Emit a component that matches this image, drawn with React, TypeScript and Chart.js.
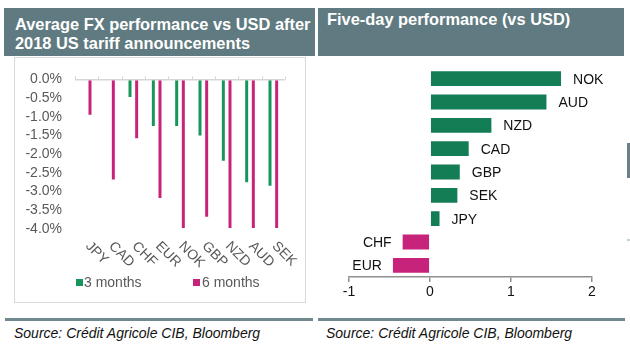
import React, { useEffect, useRef } from "react";
import { Chart, registerables } from "chart.js";

Chart.register(...registerables);

const FONT = "'Liberation Sans', Arial, Helvetica, sans-serif";

// Left chart data
const tariffCurrencies = ["JPY", "CAD", "CHF", "EUR", "NOK", "GBP", "NZD", "AUD", "SEK"];
const threeMonths = [null, null, -0.5, -1.27, -1.27, -1.53, -2.2, -2.78, -2.87];
const sixMonths = [-0.97, -2.7, -1.6, -3.2, -4.0, -3.7, -4.0, -4.0, -4.0];
const seriesNames = ["3 months", "6 months"];

// Right chart data
const fiveDayCurrencies = ["NOK", "AUD", "NZD", "CAD", "GBP", "SEK", "JPY", "CHF", "EUR"];
const fiveDayValues = [1.63, 1.45, 0.77, 0.49, 0.38, 0.35, 0.13, -0.35, -0.47];

const GREEN_L = "#17955c";
const PINK = "#c8237a";
const GREEN_R = "#137d55";
const HEADER = "#5f7a80";
const DIVIDER = "#6f898f";

const leftLabelsPlugin = {
  id: "leftLabels",
  afterDraw(chart: any) {
    const { ctx, chartArea } = chart;
    const x = chart.scales.x;
    const y = chart.scales.y;
    const labels: string[] = chart.data.labels;
    const n = labels.length;
    const y0 = y.getPixelForValue(0);
    ctx.save();
    ctx.strokeStyle = "#d4d4d4";
    ctx.lineWidth = 1;
    for (let i = 0; i <= n; i++) {
      const px = Math.round(chartArea.left + ((chartArea.right - chartArea.left) * i) / n) + 0.5;
      ctx.beginPath();
      ctx.moveTo(px, y0 - 3);
      ctx.lineTo(px, y0);
      ctx.stroke();
    }
    ctx.font = `14px ${FONT}`;
    ctx.fillStyle = "#595959";
    ctx.textAlign = "left";
    ctx.textBaseline = "middle";
    labels.forEach((lab, i) => {
      const px = x.getPixelForValue(i);
      ctx.save();
      ctx.translate(px + 1, chartArea.bottom + 15);
      ctx.rotate(Math.PI / 4);
      ctx.fillText(lab, 0, 0);
      ctx.restore();
    });
    ctx.restore();
  },
};

const rightLabelsPlugin = {
  id: "rightLabels",
  afterDatasetsDraw(chart: any) {
    const { ctx } = chart;
    const meta = chart.getDatasetMeta(0);
    const vals: number[] = chart.data.datasets[0].data;
    const labels: string[] = chart.data.labels;
    ctx.save();
    ctx.font = `14px ${FONT}`;
    ctx.fillStyle = "#111111";
    ctx.textBaseline = "middle";
    meta.data.forEach((el: any, i: number) => {
      const v = vals[i];
      if (v >= 0) {
        ctx.textAlign = "left";
        ctx.fillText(labels[i], el.x + 11, el.y + 1);
      } else {
        ctx.textAlign = "right";
        ctx.fillText(labels[i], el.x - 10, el.y + 1);
      }
    });
    ctx.restore();
  },
};

function LeftChart() {
  const ref = useRef<HTMLCanvasElement>(null);
  useEffect(() => {
    const chart = new Chart(ref.current!, {
      type: "bar",
      data: {
        labels: tariffCurrencies,
        datasets: [
          {
            label: seriesNames[0],
            data: threeMonths as any,
            backgroundColor: GREEN_L,
            borderColor: "rgba(255,255,255,0.45)",
            borderWidth: 1,
            categoryPercentage: 0.57,
            barPercentage: 0.75,
          },
          {
            label: seriesNames[1],
            data: sixMonths,
            backgroundColor: PINK,
            borderColor: "rgba(255,255,255,0.45)",
            borderWidth: 1,
            categoryPercentage: 0.57,
            barPercentage: 0.75,
          },
        ],
      },
      options: {
        responsive: false,
        animation: false,
        layout: { padding: { top: 17, right: 20, bottom: 73, left: 0 } },
        plugins: { legend: { display: false }, tooltip: { enabled: false } },
        scales: {
          x: { display: false },
          y: {
            min: -4,
            max: 0,
            afterFit: (s: any) => {
              s.width = 60;
            },
            border: { display: false },
            grid: {
              drawTicks: false,
              lineWidth: 1.5,
              color: (c: any) => (c.tick && c.tick.value === 0 ? "#d6d6d6" : "rgba(0,0,0,0)"),
            },
            ticks: {
              stepSize: 0.5,
              autoSkip: false,
              maxTicksLimit: 20,
              padding: 13,
              color: "#595959",
              font: { family: FONT, size: 14 },
              callback: (v: any) => Number(v).toFixed(1) + "%",
            },
          },
        },
      },
      plugins: [leftLabelsPlugin],
    });
    return () => chart.destroy();
  }, []);
  return (
    <canvas
      ref={ref}
      width={290}
      height={244}
      style={{ position: "absolute", left: 15, top: 58, width: 290, height: 244 }}
    />
  );
}

function RightChart() {
  const ref = useRef<HTMLCanvasElement>(null);
  useEffect(() => {
    const chart = new Chart(ref.current!, {
      type: "bar",
      data: {
        labels: fiveDayCurrencies,
        datasets: [
          {
            label: "Five-day performance",
            data: fiveDayValues,
            backgroundColor: fiveDayValues.map((v) => (v >= 0 ? GREEN_R : PINK)),
            borderColor: "rgba(255,255,255,0.45)",
            borderWidth: 1,
            categoryPercentage: 1,
            barPercentage: 0.72,
          },
        ],
      },
      options: {
        indexAxis: "y",
        responsive: false,
        animation: false,
        layout: { padding: { top: 9, right: 33, bottom: 7, left: 31 } },
        plugins: { legend: { display: false }, tooltip: { enabled: false } },
        scales: {
          y: { display: false },
          x: {
            min: -1,
            max: 2,
            afterFit: (s: any) => {
              s.height = 26;
            },
            border: { display: true, color: "#8f8f8f", width: 1.5 },
            grid: {
              drawOnChartArea: false,
              drawTicks: true,
              tickLength: 5,
              color: "#8f8f8f",
              lineWidth: 1.5,
            },
            ticks: {
              stepSize: 1,
              padding: 2,
              color: "#111111",
              font: { family: FONT, size: 14 },
            },
          },
        },
      },
      plugins: [rightLabelsPlugin],
    });
    return () => chart.destroy();
  }, []);
  return (
    <canvas
      ref={ref}
      width={307}
      height={252}
      style={{ position: "absolute", left: 318, top: 58, width: 307, height: 252 }}
    />
  );
}

export default function App() {
  const headerText: React.CSSProperties = {
    position: "absolute",
    color: "#ffffff",
    fontFamily: FONT,
    fontWeight: "bold",
    fontSize: 16.4,
    lineHeight: "19px",
    whiteSpace: "nowrap",
  };
  const source: React.CSSProperties = {
    position: "absolute",
    top: 325,
    fontFamily: FONT,
    fontStyle: "italic",
    fontSize: 14,
    lineHeight: "16px",
    color: "#111",
    whiteSpace: "nowrap",
  };
  const legendText: React.CSSProperties = {
    position: "absolute",
    top: 274,
    fontFamily: FONT,
    fontSize: 14,
    lineHeight: "16px",
    color: "#595959",
    whiteSpace: "nowrap",
  };
  return (
    <div
      style={{
        position: "absolute",
        left: 0,
        top: 0,
        width: 630,
        height: 354,
        background: "#ffffff",
        overflow: "hidden",
      }}
    >
      <div style={{ position: "absolute", left: 4, top: 8, width: 311, height: 48, background: HEADER }} />
      <div style={{ position: "absolute", left: 318, top: 8, width: 306, height: 48, background: HEADER }} />
      <div style={{ ...headerText, left: 15, top: 15 }}>
        Average FX performance vs USD after
        <br />
        2018 US tariff announcements
      </div>
      <div style={{ ...headerText, left: 327, top: 9.5 }}>Five-day performance (vs USD)</div>

      <div
        style={{
          position: "absolute",
          left: 14,
          top: 57,
          width: 292,
          height: 246,
          border: "1px solid #d9d9d9",
          boxSizing: "border-box",
        }}
      />
      <LeftChart />
      <div style={{ position: "absolute", left: 76, top: 279, width: 7, height: 7, background: GREEN_L }} />
      <div style={{ ...legendText, left: 84 }}>{seriesNames[0]}</div>
      <div style={{ position: "absolute", left: 193, top: 279, width: 7, height: 7, background: PINK }} />
      <div style={{ ...legendText, left: 202 }}>{seriesNames[1]}</div>

      <RightChart />

      <div style={{ position: "absolute", left: 627, top: 143, width: 3, height: 35, background: "#6c8187" }} />
      <div style={{ position: "absolute", left: 627, top: 239, width: 3, height: 2, background: "#c8d0d2" }} />

      <div style={{ position: "absolute", left: 5, top: 318, width: 308, height: 3, background: DIVIDER }} />
      <div style={{ position: "absolute", left: 318, top: 318, width: 307, height: 3, background: DIVIDER }} />
      <div style={{ ...source, left: 14 }}>Source: Crédit Agricole CIB, Bloomberg</div>
      <div style={{ ...source, left: 326 }}>Source: Crédit Agricole CIB, Bloomberg</div>
    </div>
  );
}
